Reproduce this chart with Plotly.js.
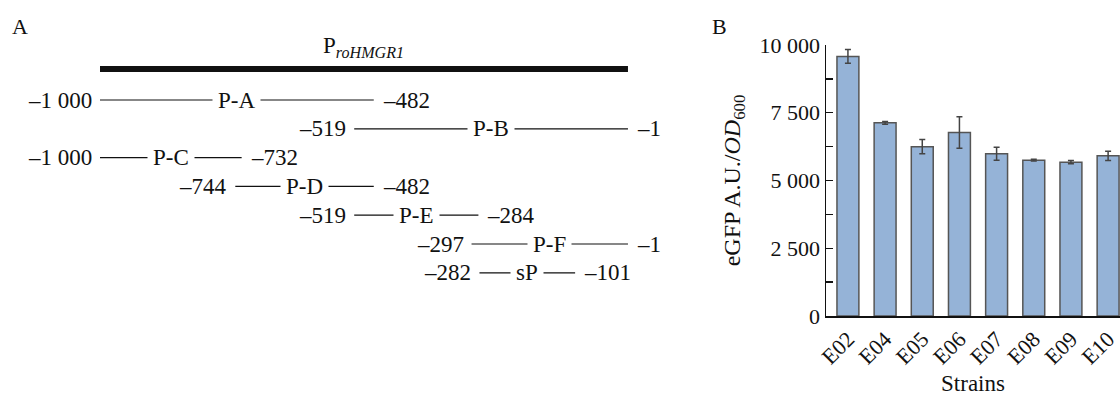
<!DOCTYPE html>
<html>
<head>
<meta charset="utf-8">
<script src="https://cdn.plot.ly/plotly-3.0.1.min.js"></script>
<style>html,body{margin:0;padding:0;background:#fff;}#chart{width:1120px;height:396px;}</style>
</head>
<body>
<div id="chart"></div>
<script>
// ---- Panel A data: promoter fragments ----
const fragments = ['P-A', 'P-B', 'P-C', 'P-D', 'P-E', 'P-F', 'sP'];
const fragStart = [-1000, -519, -1000, -744, -519, -297, -282];
const fragEnd = [-482, -1, -732, -482, -284, -1, -101];
const fullStart = -1000;
const fullEnd = -1;

// ---- Panel B data: eGFP fluorescence ----
const strains = ['E02', 'E04', 'E05', 'E06', 'E07', 'E08', 'E09', 'E10'];
const egfp = [9580, 7130, 6250, 6770, 5985, 5750, 5675, 5910];
const egfpErr = [250, 50, 260, 580, 240, 30, 60, 170];
const yTickVals = [0, 2500, 5000, 7500, 10000];
const yTickText = ['0', '2 500', '5 000', '7 500', '10 000'];

function fmt(v) {
  const a = Math.abs(v);
  let s = String(a);
  if (a >= 1000) s = s.slice(0, s.length - 3) + ' ' + s.slice(-3);
  return (v < 0 ? '\u2013' : '') + s;
}

const serif = 'Liberation Serif, Times New Roman, serif';
const fsA = 23;

// segments trace
const segX = [], segY = [];
fragments.forEach((f, i) => {
  segX.push(fragStart[i], fragEnd[i], null);
  segY.push(i, i, null);
});

const traces = [
  {
    type: 'scatter', mode: 'lines', xaxis: 'x2', yaxis: 'y2',
    x: [fullStart, fullEnd], y: [-1.08, -1.08],
    line: {color: '#111', width: 6}, hoverinfo: 'skip', showlegend: false
  },
  {
    type: 'scatter', mode: 'lines', xaxis: 'x2', yaxis: 'y2',
    x: segX, y: segY,
    line: {color: '#111', width: 1.2}, hoverinfo: 'skip', showlegend: false
  },
  {
    type: 'bar', x: strains, y: egfp, xaxis: 'x', yaxis: 'y',
    marker: {color: '#95B3D7', line: {color: '#555', width: 1.5}},
    error_y: {type: 'data', array: egfpErr, visible: true, color: '#444', thickness: 1.5, width: 3},
    showlegend: false
  }
];

const annotations = [];
fragments.forEach((f, i) => {
  annotations.push({
    xref: 'x2', yref: 'y2', x: (fragStart[i] + fragEnd[i]) / 2, y: i,
    text: f, showarrow: false, bgcolor: '#fff', borderpad: 5,
    font: {family: serif, size: fsA, color: '#111'}
  });
  annotations.push({
    xref: 'x2', yref: 'y2', x: fragStart[i], y: i, xanchor: 'right', xshift: -6,
    text: fmt(fragStart[i]), showarrow: false,
    font: {family: serif, size: fsA, color: '#111'}
  });
  annotations.push({
    xref: 'x2', yref: 'y2', x: fragEnd[i], y: i, xanchor: 'left', xshift: 7,
    text: fmt(fragEnd[i]), showarrow: false,
    font: {family: serif, size: fsA, color: '#111'}
  });
});
annotations.push({
  xref: 'x2', yref: 'y2', x: (fullStart + fullEnd) / 2, y: -1.85,
  text: 'P<sub><i>roHMGR1</i></sub>', showarrow: false,
  font: {family: serif, size: fsA, color: '#111'}
});
annotations.push({xref: 'paper', yref: 'paper', x: 19.5 / 1120, y: 1 - 27 / 396, xanchor: 'center', yanchor: 'middle',
  text: 'A', showarrow: false, font: {family: serif, size: 22, color: '#111'}});
annotations.push({xref: 'paper', yref: 'paper', x: 719 / 1120, y: 1 - 27 / 396, xanchor: 'center', yanchor: 'middle',
  text: 'B', showarrow: false, font: {family: serif, size: 22, color: '#111'}});

const pxPerBp = 528.5 / 1000;
const xa2L = -1000 - 100 / pxPerBp;
const xa2R = xa2L + 672 / pxPerBp;
const rowH = 28.8;

const layout = {
  width: 1120, height: 396,
  margin: {l: 0, r: 0, t: 0, b: 0},
  paper_bgcolor: '#fff', plot_bgcolor: 'rgba(0,0,0,0)',
  font: {family: serif, color: '#111'},
  showlegend: false,
  bargap: 0.41,
  xaxis: {
    domain: [826 / 1120, 1], range: [-0.59, 7.32],
    showline: true, linecolor: '#111', linewidth: 1.5,
    ticks: '', tickangle: -45, tickfont: {family: serif, size: 22, color: '#111'},
    title: {text: 'Strains', font: {family: serif, size: 23, color: '#111'}, standoff: 6},
    showgrid: false, zeroline: false, fixedrange: true
  },
  yaxis: {
    domain: [(396 - 316) / 396, (396 - 45) / 396], range: [0, 10000],
    showline: true, linecolor: '#111', linewidth: 1.5,
    ticks: 'inside', ticklen: 7, tickwidth: 1.3, tickcolor: '#111',
    tickvals: yTickVals, ticktext: yTickText,
    minor: {tickvals: [1250, 3750, 6250, 8750], ticks: 'inside', ticklen: 7, tickwidth: 1.3, tickcolor: '#111', showgrid: false},
    tickfont: {family: serif, size: 22, color: '#111'},
    title: {text: 'eGFP A.U./<i>OD</i><sub>600</sub>', font: {family: serif, size: 24, color: '#111'}, standoff: 12},
    showgrid: false, zeroline: false, fixedrange: true
  },
  xaxis2: {domain: [0, 0.6], range: [xa2L, xa2R], visible: false, anchor: 'y2', fixedrange: true},
  yaxis2: {domain: [0, 1], range: [(396 - 100) / rowH, -100 / rowH], visible: false, anchor: 'x2', fixedrange: true},
  annotations: annotations
};

Plotly.newPlot('chart', traces, layout, {displayModeBar: false, staticPlot: true});
</script>
</body>
</html>
